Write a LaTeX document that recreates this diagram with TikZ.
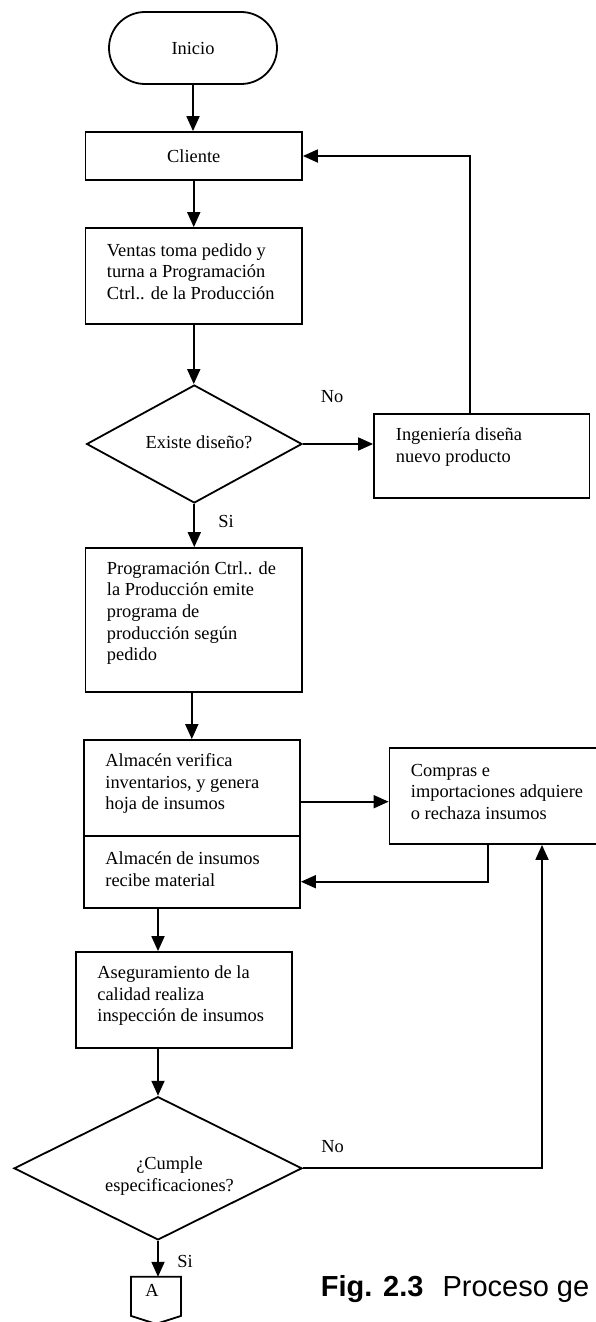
\documentclass[tikz,border=0pt]{standalone}
\usepackage{fontspec}
\setmainfont{Liberation Serif}
\newfontfamily\capfont{Liberation Sans}
\usetikzlibrary{shapes.geometric,arrows.meta,calc}

\begin{document}
\begin{tikzpicture}[x=1pt,y=-1pt,
  line width=1.8pt,
  every node/.style={font=\fontsize{18.4}{21.6}\selectfont, inner sep=0pt},
  terminal/.style={draw, rectangle, rounded corners=36pt, minimum width=168pt, minimum height=72pt},
  procbox/.style={draw, rectangle, minimum width=216.5pt, minimum height=#1},
  decision/.style={draw, diamond, aspect=1},
  txt/.style={anchor=west, align=left},
  flow/.style={-{Triangle[length=15pt,width=13pt]}}
]
\useasboundingbox (0,0) rectangle (595,1322);

% turning points of the return lines
\coordinate (c-loop) at (470,0);
\coordinate (c-buy) at (0,801.7);
\coordinate (c-ret) at (488,881.7);
\coordinate (c-rej) at (542,0);

% shapes
\node[terminal] (inicio) at (193,48) {Inicio};
\node[procbox=48pt] (cliente) at (193.75,156) {Cliente};

\node[procbox=96pt] (ventas) at (193.75,276) {};
\node[txt] (ventas-t) at (106,271.7) {Ventas toma pedido y\\turna a Programación\\Ctrl.. de la Producción};

\node[decision, minimum width=215.4pt, minimum height=118pt] (d1) at (194.3,444) {};
\node (d1-t) at (199,442) {Existe diseño?};

\node[procbox=84pt, minimum width=215.5pt] (ing) at (481.75,456) {};
\node[txt] (ing-t) at (395,447.3) {Ingeniería diseña\\nuevo producto};

\node[procbox=144pt] (prog) at (193.75,620) {};
\node[txt] (prog-t) at (106,613) {Programación Ctrl.. de\\la Producción emite\\programa de\\producción según\\pedido};

\node[procbox=96pt, minimum width=216.4pt] (alm1) at (191.8,788) {};
\node[txt] (alm1-t) at (104.5,783.8) {Almacén verifica\\inventarios, y genera\\hoja de insumos};

\node[procbox=72pt, minimum width=216.4pt] (alm2) at (191.8,872) {};
\node[txt] (alm2-t) at (104.5,869.3) {Almacén de insumos\\recibe material};

\node[procbox=96pt, minimum width=216pt] (compras) at (497.5,796) {};
\node[txt] (compras-t) at (410,791.7) {Compras e\\importaciones adquiere\\o rechaza insumos};

\node[procbox=96pt, minimum width=216pt] (aseg) at (184,1000) {};
\node[txt] (aseg-t) at (96.5,995.8) {Aseguramiento de la\\calidad realiza\\inspección de insumos};

\node[decision, minimum width=288pt, minimum height=143.3pt] (d2) at (158,1168.3) {};
\node[align=center] (d2-t) at (169.5,1176.2) {¿Cumple\\especificaciones?};

% off-page connector
\node[minimum width=48.3pt, minimum height=37.3pt] (conA) at (156,1296.35) {};
\draw (conA.north west) -- (conA.south west) -- ($(conA.south)+(0,8)$)
      -- (conA.south east) -- (conA.north east) -- cycle;
\node (conA-t) at (152,1290.7) {A};

% branch labels
\node (no1) at (332,397) {No};
\node (si1) at (226,521) {Si};
\node (no2) at (332.5,1147) {No};
\node (si2) at (185,1261.7) {Si};

% caption
\node[anchor=base west, font=\capfont\fontsize{29}{34}\selectfont] (cap) at (320,1296.7)
  {\textbf{Fig. 2.3}\hspace{19pt}Proceso ge};

% connectors
\draw[flow] (inicio.south) -- (inicio.south |- cliente.north);
\draw[flow] (cliente.south) -- (ventas.north);
\draw[flow] (ventas.south) -- (ventas.south |- d1.north);
\draw[flow] (d1.east) -- (d1.east -| ing.west);
\draw[flow] (ing.north -| c-loop) |- (cliente.east);
\draw[flow] (d1.south) -- (d1.south |- prog.north);
\draw[flow] (alm1.north |- prog.south) -- (alm1.north);
\draw[flow] (alm1.east |- c-buy) -- (compras.west |- c-buy);
\draw[flow] (compras.south -| c-ret) |- (alm2.east |- c-ret);
\draw[flow] (d2.north |- alm2.south) -- (d2.north |- aseg.north);
\draw[flow] (d2.north |- aseg.south) -- (d2.north);
\draw[flow] (d2.east) -| (compras.south -| c-rej);
\draw[flow] (d2.south) -- (d2.south |- conA.north);
\end{tikzpicture}
\end{document}
